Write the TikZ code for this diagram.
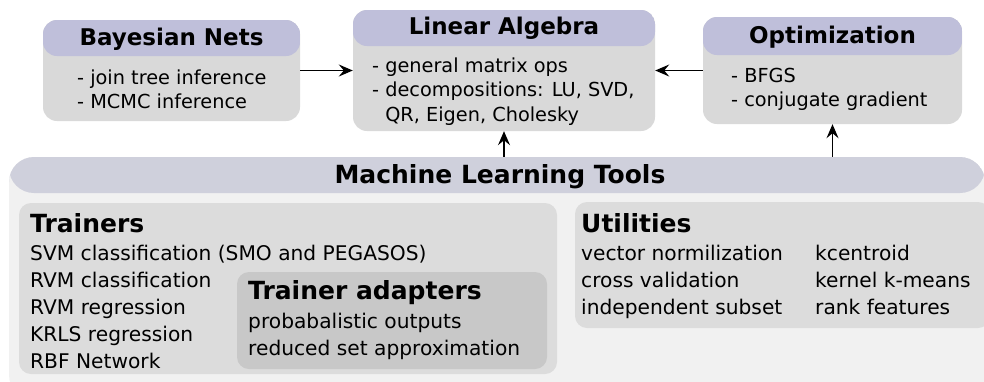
\documentclass[tikz,border=0pt]{standalone}
\usepackage{fontspec}
\setmainfont{DejaVu Sans}
\usetikzlibrary{arrows.meta,calc,positioning}
\definecolor{headblue}{RGB}{191,191,218}
\definecolor{bodygray}{RGB}{217,217,217}
\definecolor{mlhead}{RGB}{207,208,220}
\definecolor{mlbody}{RGB}{241,241,241}
\definecolor{partgray}{RGB}{220,220,220}
\definecolor{adaptgray}{RGB}{200,200,200}

\newcommand{\boxtitle}{\fontsize{23}{27}\selectfont\bfseries}
\newcommand{\boxtext}{\fontsize{19.3}{24.5}\selectfont}
\newcommand{\tooltitle}{\fontsize{25}{30}\selectfont\bfseries}
\newcommand{\tooltext}{\fontsize{20.2}{27}\selectfont}

\tikzset{
	box/.style={fill=bodygray, rounded corners=14pt, inner sep=0pt},
	band/.style 2 args={path picture={\fill[#1] (path picture bounding box.north west) rectangle ([yshift=-#2]path picture bounding box.north east);}},
	ttl/.style={anchor=base, inner sep=0pt, font=\boxtitle},
	txt/.style={anchor=base west, inner sep=0pt, align=left, font=\boxtext},
	arr/.style={line width=1.2pt, -{Stealth[length=14pt,width=12pt,inset=5pt]}}
}

\begin{document}
\begin{tikzpicture}[x=1pt,y=-1pt]
	\useasboundingbox (0,0) rectangle (984,381);
	\clip (0,0) rectangle (984,381);
%
	\node[box, fill=mlbody, rounded corners=25pt, band={mlhead}{36pt}, minimum width=976pt, minimum height=243pt] (ml) at (497,278.5) {};
	\node[ttl, font=\tooltitle] (mlt) at (500,183) {Machine Learning Tools};
%
	% text blocks sit on the baseline of their last line
	\node[box, fill=partgray, rounded corners=12pt, minimum width=538pt, minimum height=171pt] (tr) at (288,288.5) {};
	\node[txt, font=\tooltitle] (trt) at (30,232) {Trainers};
	\node[txt, font=\tooltext] (trx) at (30,368) {SVM classification (SMO and PEGASOS)\\RVM classification\\RVM regression\\KRLS regression\\RBF Network};
	\node[box, fill=adaptgray, rounded corners=12pt, minimum width=310pt, minimum height=97pt] (ad) at (392,320.5) {};
	\node[txt, font=\tooltitle] (adt) at (248,299) {Trainer adapters};
	\node[txt, font=\tooltext] (adx) at (248,355) {probabalistic outputs\\reduced set approximation};
%
	\node[box, fill=partgray, rounded corners=12pt, minimum width=415pt, minimum height=126pt] (ut) at (782.5,265) {};
	\node[txt, font=\tooltitle] (utt) at (581,232) {Utilities};
	\node[txt, font=\tooltext] (utx) at (581,314) {vector normilization\\cross validation\\independent subset};
	\node[txt, font=\tooltext] (uty) at (815,314) {kcentroid\\kernel k-means\\rank features};
%
	\node[box, band={headblue}{36pt}, minimum width=257pt, minimum height=101pt] (bn) at (171.5,70.5) {};
	\node[ttl] (bnt) at (171.5,45) {Bayesian Nets};
	\node[txt] (bnx) at (77,108.5) {- join tree inference\\- MCMC inference};
%
	\node[box, band={headblue}{36pt}, minimum width=302pt, minimum height=121pt] (la) at (504,70.5) {};
	\node[ttl] (lat) at (504,34) {Linear Algebra};
	\node[txt] (lax) at (372,121) {- general matrix ops\\- decompositions: LU, SVD,\\\hphantom{- }QR, Eigen, Cholesky};
%
	\node[box, band={headblue}{38pt}, minimum width=259pt, minimum height=107pt] (opt) at (832.5,70.5) {};
	\node[ttl] (optt) at (832.5,43) {Optimization};
	\node[txt] (optx) at (731,106.5) {- BFGS\\- conjugate gradient};
%
	\draw[arr] (bn.east) -- (bn.east -| la.west);
	\draw[arr] (opt.west) -- (opt.west -| la.east);
	\draw[arr] (la.south |- ml.north) -- (la.south);
	\draw[arr] (opt.south |- ml.north) -- (opt.south);
\end{tikzpicture}
\end{document}
